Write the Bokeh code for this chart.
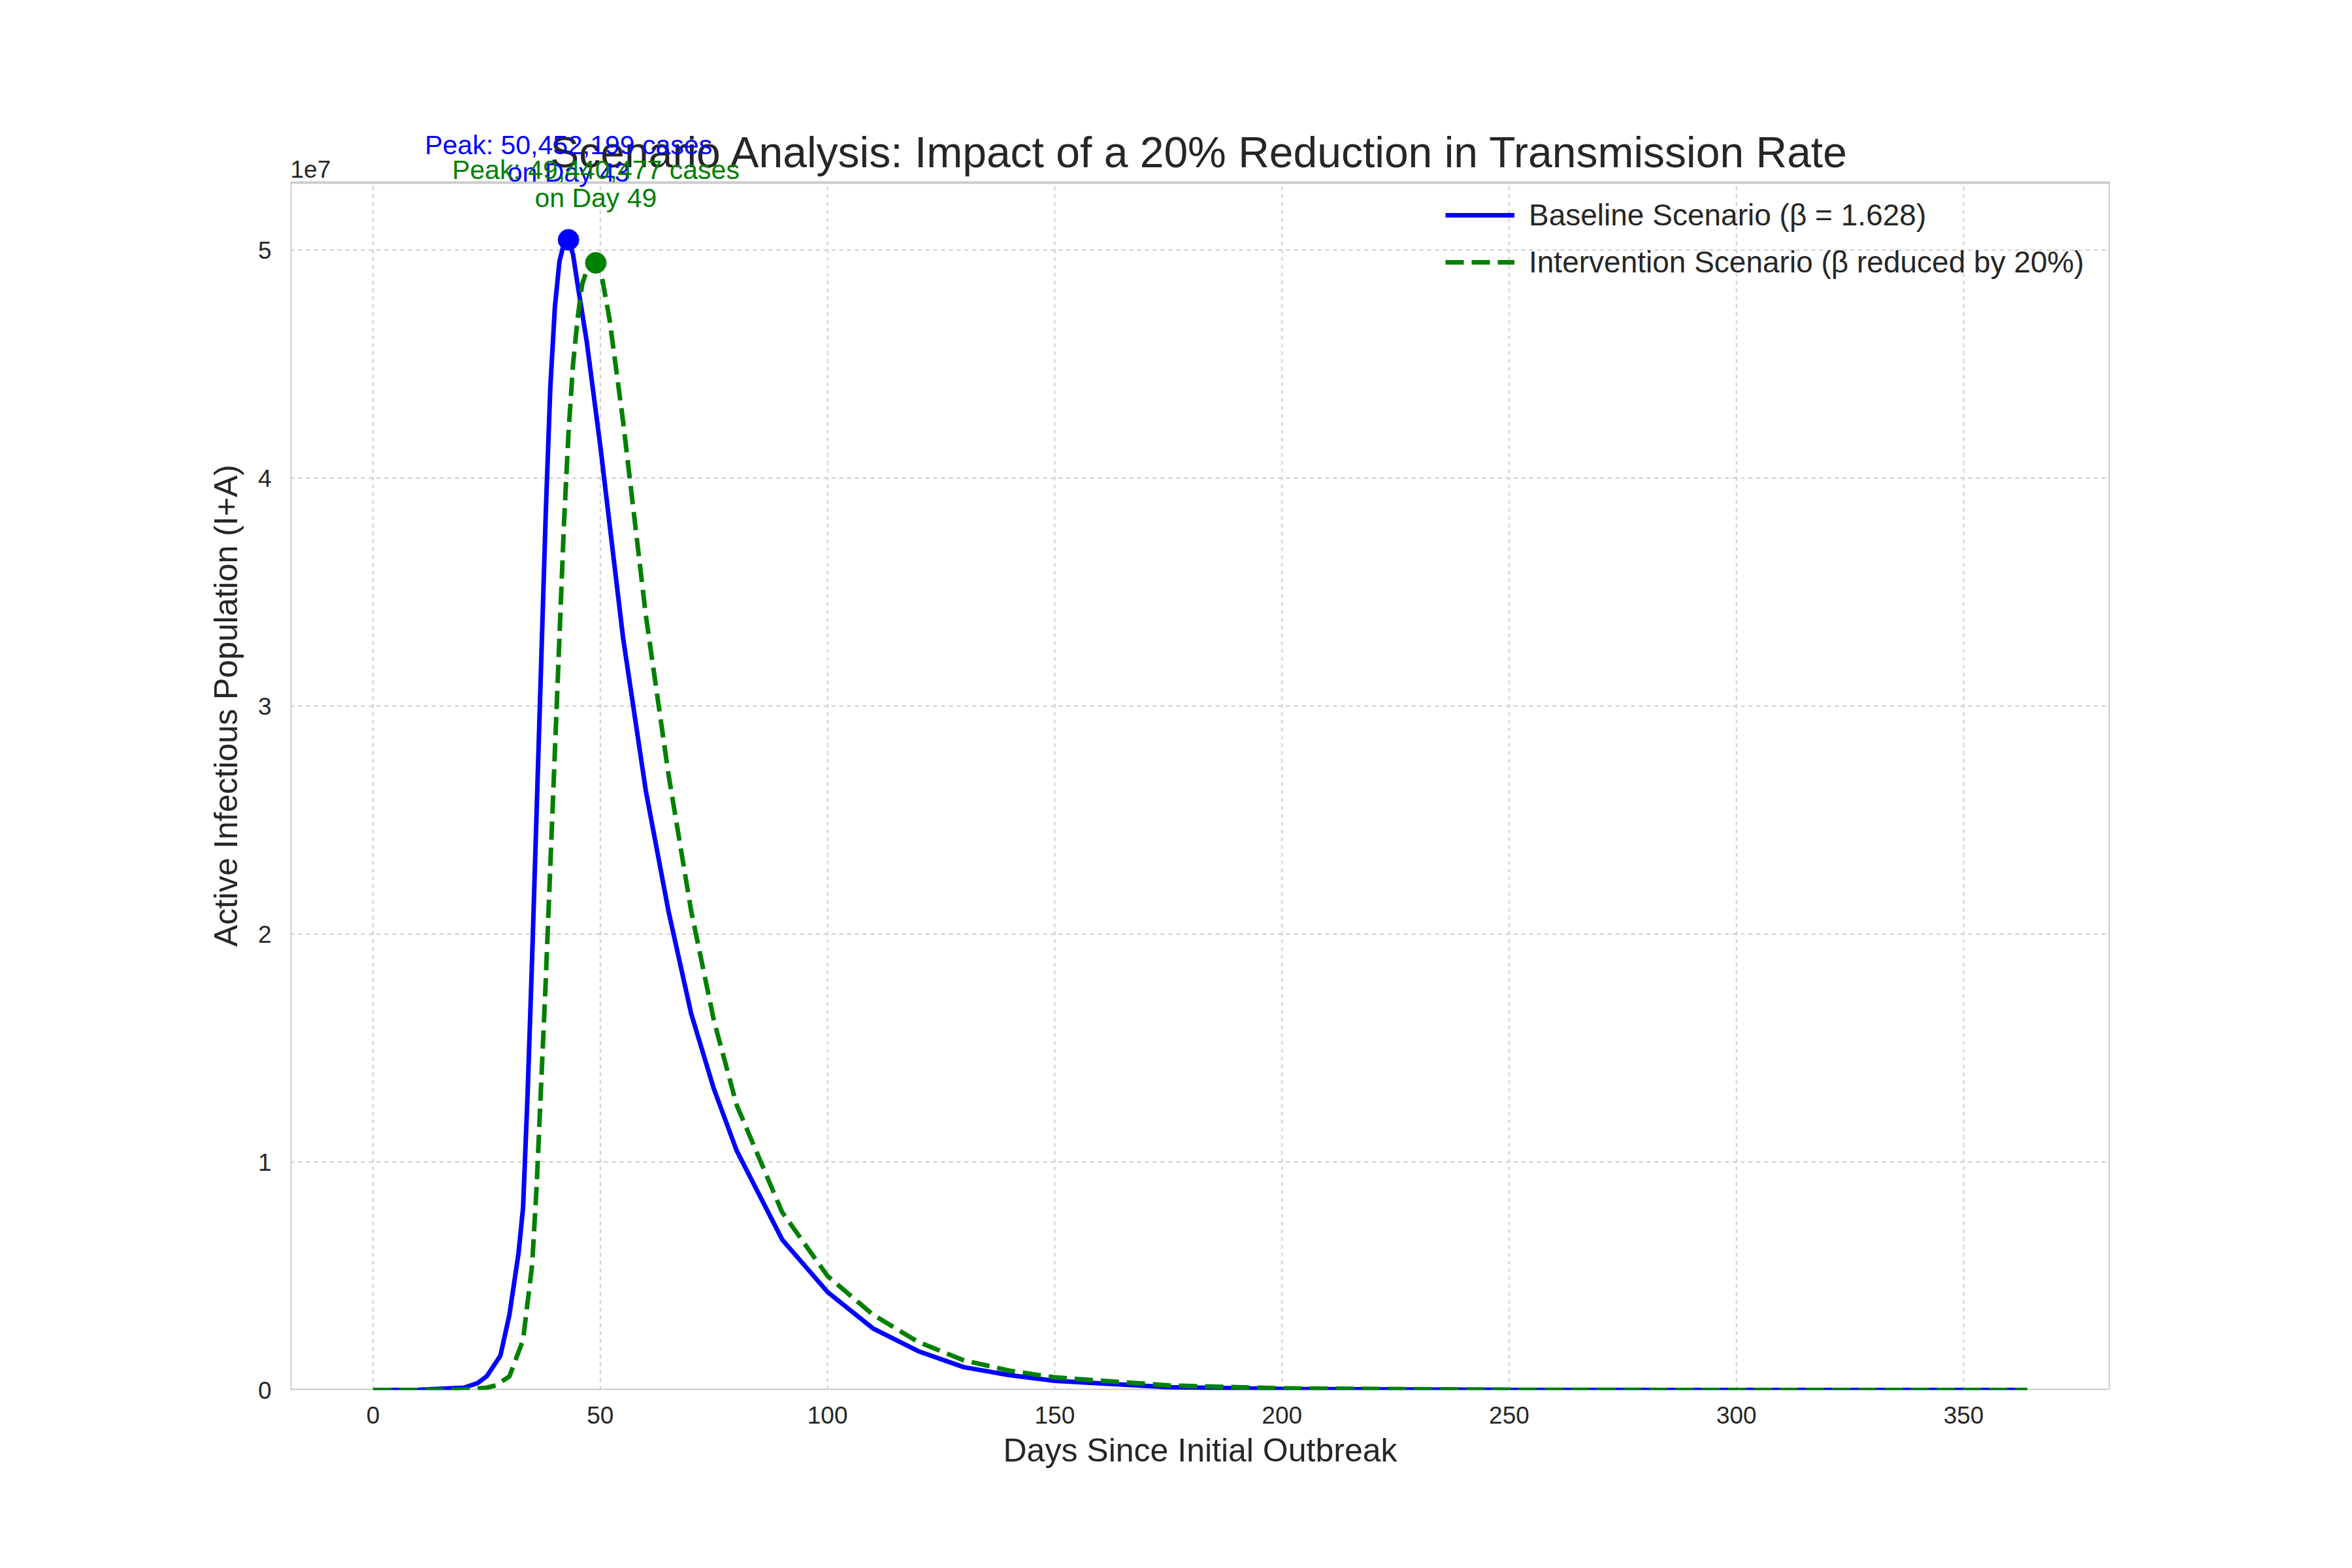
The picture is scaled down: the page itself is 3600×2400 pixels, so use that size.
from bokeh.plotting import figure
from bokeh.models import Range1d, FixedTicker, Label, Legend, LegendItem
from bokeh.embed import file_html
from bokeh.resources import INLINE

days_b = [0, 10, 20, 23, 25, 28, 30, 32, 33, 34, 35, 36, 37, 38, 39, 40, 41, 42, 43, 44, 45, 47, 50, 55, 60, 65, 70, 75, 80, 90, 100, 110, 120, 130, 140, 150, 175, 200, 250, 300, 364]
vals_b = [0, 0.0005e7, 0.01e7, 0.03e7, 0.06e7, 0.15e7, 0.33e7, 0.6e7, 0.8e7, 1.3e7, 1.9e7, 2.55e7, 3.2e7, 3.85e7, 4.4e7, 4.75e7, 4.95e7, 5.03e7, 5.0452199e7, 4.98e7, 4.85e7, 4.6e7, 4.14e7, 3.3e7, 2.63e7, 2.1e7, 1.65e7, 1.32e7, 1.05e7, 0.66e7, 0.43e7, 0.27e7, 0.17e7, 0.1e7, 0.065e7, 0.04e7, 0.012e7, 0.004e7, 0.0005e7, 0, 0]

days_i = [0, 10, 20, 25, 27, 30, 33, 35, 36, 37, 38, 39, 40, 41, 42, 43, 44, 45, 46, 47, 48, 49, 50, 52, 55, 60, 65, 70, 75, 80, 90, 100, 110, 120, 130, 140, 150, 175, 200, 250, 300, 364]
vals_i = [0, 0, 0.002e7, 0.01e7, 0.02e7, 0.06e7, 0.22e7, 0.55e7, 0.9e7, 1.35e7, 1.8e7, 2.3e7, 2.8e7, 3.3e7, 3.8e7, 4.2e7, 4.5e7, 4.7e7, 4.85e7, 4.91e7, 4.935e7, 4.9440477e7, 4.92e7, 4.7e7, 4.25e7, 3.4e7, 2.7e7, 2.1e7, 1.62e7, 1.25e7, 0.78e7, 0.5e7, 0.33e7, 0.21e7, 0.13e7, 0.085e7, 0.055e7, 0.02e7, 0.007e7, 0.001e7, 0, 0]

peak_b_day, peak_b_val = 43, 50452199
peak_i_day, peak_i_val = 49, 49440477
x_ticks = [0, 50, 100, 150, 200, 250, 300, 350]
y_ticks = [0, 1e7, 2e7, 3e7, 4e7, 5e7]
y_tick_labels = ["0", "1", "2", "3", "4", "5"]

X0, X1, Y0, Y1 = -18.2, 382.2, 0, 5.296e7
FONT = "Liberation Sans"
TXT = "#262626"
p = figure(width=3584, height=2384, output_backend="svg", toolbar_location=None,
           x_range=Range1d(X0, X1), y_range=Range1d(Y0, 6.004e7),
           min_border_left=444, min_border_right=355, min_border_top=32, min_border_bottom=257)
p.outline_line_color = None
p.xgrid.visible = False
p.ygrid.visible = False
for ax in (p.xaxis[0], p.yaxis[0]):
    ax.axis_line_color = None
    ax.major_tick_line_color = None
    ax.minor_tick_line_color = None
    ax.major_label_text_font = FONT
    ax.major_label_text_font_size = "37px"
    ax.major_label_text_color = TXT
    ax.axis_label_text_font = FONT
    ax.axis_label_text_font_size = "50px"
    ax.axis_label_text_font_style = "normal"
    ax.axis_label_text_color = TXT
p.xaxis.ticker = FixedTicker(ticks=x_ticks)
p.yaxis.ticker = FixedTicker(ticks=y_ticks)
p.yaxis.major_label_overrides = {t: l for t, l in zip(y_ticks, y_tick_labels)}
p.xaxis.axis_label = "Days Since Initial Outbreak"
p.yaxis.axis_label = "Active Infectious Population (I+A)"
p.xaxis.major_label_standoff = 19
p.yaxis.major_label_standoff = 23
p.xaxis.axis_label_standoff = 10
p.yaxis.axis_label_standoff = 18

# grid lines limited to the axes box
p.segment(x0=x_ticks, x1=x_ticks, y0=[Y0] * len(x_ticks), y1=[Y1] * len(x_ticks),
          line_color="#cccccc", line_width=2, line_dash="6 6")
p.segment(x0=[X0] * len(y_ticks), x1=[X1] * len(y_ticks), y0=y_ticks, y1=y_ticks,
          line_color="#cccccc", line_width=2, line_dash="6 6")
p.quad(left=[X0], right=[X1], bottom=[Y0], top=[Y1], fill_alpha=0,
       line_color="#cccccc", line_width=4)

lb = p.line(days_b, vals_b, line_color="blue", line_width=7)
li = p.line(days_i, vals_i, line_color="green", line_width=7, line_dash="28 12")
p.scatter([peak_b_day], [peak_b_val], size=32, color="blue")
p.scatter([peak_i_day], [peak_i_val], size=32, color="green")

p.add_layout(Label(x=(X0 + X1) / 2, y=5.428e7, text="Scenario Analysis: Impact of a 20% Reduction in Transmission Rate",
                   text_font=FONT, text_font_size="66px", text_color=TXT,
                   text_align="center", text_baseline="middle"))

for d, v, c, o1, o2 in [(peak_b_day, peak_b_val, "blue", 145, 103), (peak_i_day, peak_i_val, "green", 142, 99)]:
    for t, o in [(f"Peak: {v:,} cases", o1), (f"on Day {d}", o2)]:
        p.add_layout(Label(x=d, y=v, text=t, text_color=c, text_font=FONT, text_font_size="41px",
                           text_align="center", text_baseline="middle", y_offset=o))

p.add_layout(Label(x=X0, y=Y1, text="1e7", text_font=FONT, text_font_size="37px",
                   text_color=TXT, text_baseline="bottom", y_offset=8))

legend = Legend(items=[LegendItem(label="Baseline Scenario (β = 1.628)", renderers=[lb]),
                       LegendItem(label="Intervention Scenario (β reduced by 20%)", renderers=[li])],
                location=(1758, 1689), border_line_alpha=0, background_fill_alpha=0,
                label_text_font=FONT, label_text_font_size="46px", label_text_color=TXT,
                glyph_width=106, glyph_height=46, spacing=18, margin=0, padding=10, label_standoff=22)
p.add_layout(legend)

open("out.html", "w").write(file_html(p, INLINE))
